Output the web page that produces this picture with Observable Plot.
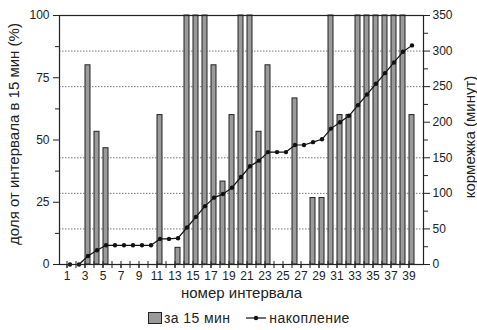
<!DOCTYPE html>
<html>
<head>
<meta charset="utf-8">
<script src="https://cdn.jsdelivr.net/npm/d3@7"></script>
<script src="https://cdn.jsdelivr.net/npm/@observablehq/plot@0.6"></script>
<style>
  body { margin: 0; background: #fff; font-family: "Liberation Sans", Arial, sans-serif; }
  #chart svg { display: block; }
  .legend { display: flex; align-items: center; height: 24px; padding-left: 148px; font-size: 14px; color: #222; letter-spacing: 0.4px; }
  .legend .box { width: 12px; height: 10px; background: #9a9a9a; border: 1px solid #222; margin-right: 2px; }
  .legend svg { margin: 0 2px 0 15px; }
</style>
</head>
<body>
<div id="chart"></div>
<div class="legend">
  <span class="box"></span><span>за 15 мин</span>
  <svg width="22" height="10"><line x1="1" x2="21" y1="5" y2="5" stroke="#111" stroke-width="1.2"/><circle cx="11" cy="5" r="2.2" fill="#111"/></svg><span>накопление</span>
</div>
<script>
// interval numbers (15-minute intervals)
const intervals = [1,2,3,4,5,6,7,8,9,10,11,12,13,14,15,16,17,18,19,20,
                   21,22,23,24,25,26,27,28,29,30,31,32,33,34,35,36,37,38,39];
// share of each interval spent feeding, %
const sharePct = [0,0,80,53.3,46.7,0,0,0,0,0,60,0,6.7,100,100,100,80,33.3,60,100,
                  100,53.3,80,0,0,66.7,0,26.7,26.7,100,60,60,100,100,100,100,100,100,60];
// accumulated feeding time, minutes
const cumulativeMin = [0,0,12,20,27,27,27,27,27,27,36,36,37,52,67,82,94,99,108,123,
                       138,146,158,158,158,168,168,172,176,191,200,209,224,239,254,269,284,299,308];
// tick values
const xTickLabels = [1,3,5,7,9,11,13,15,17,19,21,23,25,27,29,31,33,35,37,39];
const leftTicks = [0,25,50,75,100];
const leftMinor = [12.5,37.5,62.5,87.5];
const rightTicks = [0,50,100,150,200,250,300,350];
const rightMinor = [25,75,125,175,225,275,325];
const gridMin = [50,100,150,250,300];
const rightMax = 350;

const toPct = m => m * 100 / rightMax;

const bars = intervals.map((i, k) => ({i, pct: sharePct[k]}));
const cum = intervals.map((i, k) => ({i, v: toPct(cumulativeMin[k])}));

const font = "Liberation Sans, Arial, sans-serif";
const ink = "#222";

const chart = Plot.plot({
  width: 477,
  height: 306,
  marginLeft: 59,
  marginRight: 54,
  marginTop: 15,
  marginBottom: 42,
  style: {fontFamily: font, fontSize: "12px", color: ink, background: "#fff"},
  x: {type: "band", domain: intervals, paddingInner: 0.42, paddingOuter: 0.21, axis: null},
  y: {domain: [0, 100], axis: null},
  marks: [
    Plot.ruleY(gridMin.map(toPct), {stroke: "#777", strokeDasharray: "1.5,1.5", strokeWidth: 1}),
    Plot.barY(bars, {x: "i", y: "pct", fill: "#9a9a9a", stroke: ink, strokeWidth: 1}),
    Plot.line(cum, {x: "i", y: "v", stroke: "#111", strokeWidth: 1.2}),
    Plot.dot(cum, {x: "i", y: "v", r: 2.2, fill: "#111", stroke: null}),
    Plot.frame({stroke: ink, strokeWidth: 1.2}),
    // left axis
    Plot.axisY({anchor: "left", ticks: leftTicks, tickSize: 6, tickPadding: 4, label: null, stroke: ink, fontSize: 12}),
    Plot.axisY({anchor: "left", ticks: leftMinor, tickSize: 4, text: null, label: null, stroke: ink}),
    // right axis in minutes
    Plot.axisY({anchor: "right", ticks: rightTicks.map(toPct), tickFormat: d => Math.round(d * rightMax / 100),
                tickSize: 6, tickPadding: 3, label: null, stroke: ink, fontSize: 12}),
    Plot.axisY({anchor: "right", ticks: rightMinor.map(toPct), tickSize: 4, text: null, label: null, stroke: ink}),
    // bottom axis
    Plot.axisX({anchor: "bottom", ticks: xTickLabels, tickSize: 4, tickPadding: 3, dx: -3, label: null, stroke: ink, fontSize: 12}),
    Plot.axisX({anchor: "bottom", ticks: intervals, tickSize: 4, text: null, dx: -3, label: null, stroke: ink}),
    Plot.axisX({anchor: "bottom", ticks: intervals, tickSize: -3, text: null, dx: -3, label: null, stroke: ink}),
    // axis titles
    Plot.text(["номер интервала"], {frameAnchor: "bottom", dy: 33, fontSize: 15, fill: ink, text: d => d}),
    Plot.text(["доля от интервала в 15 мин (%)"], {frameAnchor: "left", textAnchor: "middle", dx: -45, dy: -6, rotate: -90, fontSize: 15, fill: ink, text: d => d}),
    Plot.text(["кормежка (минут)"], {frameAnchor: "right", textAnchor: "middle", dx: 47, dy: -3, rotate: -90, fontSize: 15, fill: ink, text: d => d})
  ]
});
document.getElementById("chart").appendChild(chart);
</script>
</body>
</html>
